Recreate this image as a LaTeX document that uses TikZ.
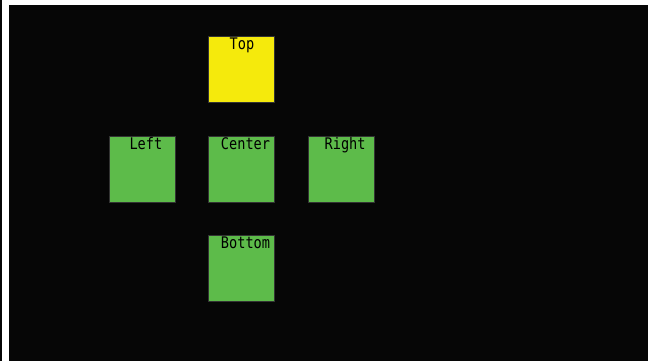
\documentclass[tikz,border=0pt]{standalone}
\usepackage{fontspec}
\setmonofont[FakeStretch=0.85]{DejaVu Sans Mono}
\usetikzlibrary{positioning}
\definecolor{cellgreen}{RGB}{93,187,74}
\definecolor{cellyellow}{RGB}{245,234,12}
\definecolor{panelblack}{RGB}{6,6,6}

\begin{document}
\begin{tikzpicture}[
    x=1pt, y=1pt,
    cell/.style={draw=black!80, line width=0.6pt, fill=cellgreen, minimum size=66pt, inner sep=0pt},
    lbl/.style={anchor=base, inner sep=0pt, font=\ttfamily\fontsize{16}{18}\selectfont, text=black}
]
\useasboundingbox (0,0) rectangle (651,-361);
% background
\fill[panelblack] (0,0) rectangle (2,-361);
\fill[white] (2,0) rectangle (9,-361);
\fill[white] (9,0) rectangle (651,-5);
\fill[panelblack] (9,-5) rectangle (648,-361);
\fill[white] (648,-5) rectangle (651,-361);
% cells
\node[cell] (center) at (241.5,-169) {};
\node[cell, fill=cellyellow, above=33pt of center] (top) {};
\node[cell, left=33pt of center] (left) {};
\node[cell, right=33pt of center] (right) {};
\node[cell, below=33pt of center] (bottom) {};
% labels
\node[lbl] (ltop) at ([xshift=0.5pt, yshift=-13.5pt]top.north) {Top};
\foreach \n/\t in {left/Left, center/Center, right/Right, bottom/Bottom} {
    \node[lbl] (l\n) at ([xshift=4pt, yshift=-13.5pt]\n.north) {\t};
}
\end{tikzpicture}
\end{document}
